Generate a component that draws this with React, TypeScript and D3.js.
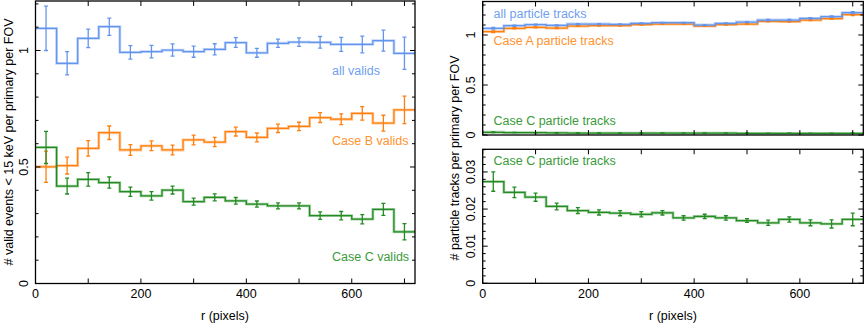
import React from "react";
import * as d3 from "d3";

// ---------- data ----------
const rBins = [20, 60, 100, 140, 180, 220, 260, 300, 340, 380, 420, 460, 500, 540, 580, 620, 660, 700];
const binWidth = 40;
const rMax = 720;

const allValids = [1.095, 0.945, 1.052, 1.102, 0.992, 0.995, 1.002, 0.995, 1.005, 1.034, 0.99, 1.031, 1.036, 1.035, 1.026, 1.026, 1.042, 0.988];
const allValidsErr = [0.095, 0.05, 0.04, 0.037, 0.029, 0.027, 0.026, 0.024, 0.024, 0.021, 0.019, 0.018, 0.018, 0.025, 0.03, 0.036, 0.045, 0.069];

const caseBValids = [0.501, 0.506, 0.58, 0.647, 0.573, 0.591, 0.573, 0.616, 0.607, 0.652, 0.627, 0.666, 0.674, 0.712, 0.705, 0.73, 0.688, 0.745];
const caseBValidsErr = [0.067, 0.036, 0.033, 0.029, 0.023, 0.021, 0.021, 0.021, 0.02, 0.019, 0.019, 0.018, 0.018, 0.021, 0.023, 0.029, 0.034, 0.059];

const caseCValids = [0.584, 0.418, 0.447, 0.433, 0.394, 0.376, 0.401, 0.351, 0.37, 0.355, 0.341, 0.333, 0.333, 0.291, 0.291, 0.276, 0.318, 0.222];
const caseCValidsErr = [0.069, 0.034, 0.029, 0.024, 0.02, 0.018, 0.017, 0.015, 0.015, 0.014, 0.013, 0.013, 0.013, 0.016, 0.018, 0.02, 0.026, 0.035];

const allTracks = [1.067, 1.093, 1.103, 1.097, 1.11, 1.11, 1.107, 1.117, 1.123, 1.123, 1.1, 1.117, 1.13, 1.15, 1.15, 1.167, 1.183, 1.223];
const allTracksErr = [0.008, 0.006, 0.005, 0.005, 0.004, 0.004, 0.004, 0.004, 0.004, 0.004, 0.004, 0.004, 0.004, 0.005, 0.005, 0.006, 0.007, 0.01];

const caseATracks = [1.033, 1.067, 1.077, 1.07, 1.09, 1.093, 1.093, 1.103, 1.11, 1.11, 1.09, 1.103, 1.11, 1.137, 1.133, 1.15, 1.163, 1.203];
const caseATracksErr = [0.008, 0.006, 0.005, 0.005, 0.004, 0.004, 0.004, 0.004, 0.004, 0.004, 0.004, 0.004, 0.004, 0.005, 0.005, 0.006, 0.007, 0.01];

const caseCTracks = [0.0274, 0.0245, 0.0232, 0.0207, 0.0196, 0.0191, 0.0189, 0.0186, 0.019, 0.0176, 0.018, 0.0176, 0.0169, 0.0163, 0.0172, 0.0163, 0.016, 0.0172];
const caseCTracksErr = [0.0026, 0.0014, 0.0011, 0.0009, 0.0008, 0.0007, 0.0007, 0.0007, 0.0006, 0.0006, 0.0006, 0.0006, 0.0005, 0.0007, 0.0007, 0.0008, 0.0011, 0.0017];

const xTickValues = [0, 100, 200, 300, 400, 500, 600, 700];
const xTickLabels = ["0", "200", "400", "600"];

const leftYMajor = [0, 0.5, 1];
const leftYLabels = ["0", "0.5", "1"];
const topRYMajor = [0, 0.5, 1];
const topRYLabels = ["0", "0.5", "1"];
const botRYMajor = [0, 0.01, 0.02, 0.03];
const botRYLabels = ["0", "0.01", "0.02", "0.03"];

// ---------- style ----------
const FONT = "'Liberation Sans', Arial, Helvetica, sans-serif";
const FS = 12.5;
const BLUE = "#6495ed";
const BLUE_T = "#6f9ff0";
const ORANGE = "#ff7f0e";
const ORANGE_T = "#ff9330";
const GREEN = "#228b22";
const GREEN_T = "#3a9a3a";

type Series = { values: number[]; err: number[]; color: string };

function Panel(props: {
  x0: number; x1: number; y0: number; y1: number; yMax: number;
  minorStep: number; major: number[]; majorLabels: string[];
  showXLabels: boolean; series: Series[]; labelX: number;
}) {
  const { x0, x1, y0, y1, yMax, minorStep, major, majorLabels, showXLabels, series } = props;
  const x = d3.scaleLinear().domain([0, rMax]).range([x0, x1]);
  const y = d3.scaleLinear().domain([0, yMax]).range([y1, y0]);
  const minor = d3.range(0, yMax + 1e-9, minorStep).filter((v) => !major.some((m) => Math.abs(m - v) < minorStep / 10));
  const line = d3.line<[number, number]>().x((d) => x(d[0])).y((d) => y(d[1])).curve(d3.curveStepAfter);

  return (
    <g>
      <defs>
        <clipPath id={`clip-${x0}-${y0}`}>
          <rect x={x0} y={y0} width={x1 - x0} height={y1 - y0} />
        </clipPath>
      </defs>
      <g clipPath={`url(#clip-${x0}-${y0})`}>
        {series.map((s, si) => {
          const pts: [number, number][] = rBins.map((c, i) => [c - binWidth / 2, s.values[i]] as [number, number]);
          pts.push([rMax, s.values[s.values.length - 1]]);
          const d = line(pts) || "";
          return (
            <g key={si}>
              <path d={d} fill="none" stroke={s.color} strokeOpacity={0.4} strokeWidth={2.8} />
              <path d={d} fill="none" stroke={s.color} strokeWidth={1.25} />
              {rBins.map((c, i) => {
                const cx = x(c);
                const ya = y(s.values[i] + s.err[i]);
                const yb = y(s.values[i] - s.err[i]);
                return (
                  <g key={i} stroke={s.color} strokeWidth={1.3}>
                    <line x1={cx} x2={cx} y1={ya} y2={yb} />
                    <line x1={cx - 2} x2={cx + 2} y1={ya} y2={ya} />
                    <line x1={cx - 2} x2={cx + 2} y1={yb} y2={yb} />
                  </g>
                );
              })}
            </g>
          );
        })}
      </g>
      {/* ticks */}
      <g stroke="#000" strokeWidth={1}>
        {xTickValues.map((t) => (
          <g key={t}>
            <line x1={x(t)} x2={x(t)} y1={y1} y2={y1 - 5} />
            <line x1={x(t)} x2={x(t)} y1={y0} y2={y0 + 5} />
          </g>
        ))}
        {minor.map((t, i) => (
          <g key={"m" + i}>
            <line x1={x0} x2={x0 + 3} y1={y(t)} y2={y(t)} />
            <line x1={x1} x2={x1 - 3} y1={y(t)} y2={y(t)} />
          </g>
        ))}
        {major.map((t, i) => (
          <g key={"M" + i}>
            <line x1={x0} x2={x0 + 5} y1={y(t)} y2={y(t)} />
            <line x1={x1} x2={x1 - 5} y1={y(t)} y2={y(t)} />
          </g>
        ))}
      </g>
      <rect x={x0} y={y0} width={x1 - x0} height={y1 - y0} fill="none" stroke="#000" strokeWidth={1.3} />
      {major.map((t, i) => (
        <text key={"l" + i} transform={`translate(${props.labelX},${y(t)}) rotate(-90)`} textAnchor="middle" fontFamily={FONT} fontSize={FS} fill="#000">
          {majorLabels[i]}
        </text>
      ))}
      {showXLabels &&
        xTickLabels.map((lab) => (
          <text key={lab} x={x(+lab)} y={y1 + 14.5} textAnchor="middle" fontFamily={FONT} fontSize={FS} fill="#000">
            {lab}
          </text>
        ))}
    </g>
  );
}

export default function App() {
  return (
    <svg width={865} height={324} style={{ display: "block", position: "absolute", left: 0, top: 0 }}>
      <rect width={865} height={324} fill="#fff" />
      {/* Left panel */}
      <Panel
        x0={35.5} x1={415} y0={1} y1={283.5} yMax={1.2124}
        minorStep={0.1} major={leftYMajor} majorLabels={leftYLabels}
        showXLabels={true} labelX={27.5}
        series={[
          { values: allValids, err: allValidsErr, color: BLUE },
          { values: caseBValids, err: caseBValidsErr, color: ORANGE },
          { values: caseCValids, err: caseCValidsErr, color: GREEN },
        ]}
      />
      <text x={332} y={75} fontFamily={FONT} fontSize={FS} fill={BLUE_T}>all valids</text>
      <text x={332} y={144.5} fontFamily={FONT} fontSize={FS} fill={ORANGE_T}>Case B valids</text>
      <text x={332} y={260.5} fontFamily={FONT} fontSize={FS} fill={GREEN_T}>Case C valids</text>
      <text transform="translate(12.5,142) rotate(-90)" textAnchor="middle" fontFamily={FONT} fontSize={FS} fill="#000">
        {"# valid events < 15 keV per primary per FOV"}
      </text>
      <text x={225} y={320} textAnchor="middle" fontFamily={FONT} fontSize={FS} fill="#000">r (pixels)</text>

      {/* Right top panel */}
      <Panel
        x0={482.7} x1={863.3} y0={1.5} y1={135} yMax={1.335}
        minorStep={0.1} major={topRYMajor} majorLabels={topRYLabels}
        showXLabels={false} labelX={474.5}
        series={[
          { values: caseCTracks, err: caseCTracksErr, color: GREEN },
          { values: caseATracks, err: caseATracksErr, color: ORANGE },
          { values: allTracks, err: allTracksErr, color: BLUE },
        ]}
      />
      <text x={493.5} y={18} fontFamily={FONT} fontSize={FS} fill={BLUE_T}>all particle tracks</text>
      <text x={493.5} y={45} fontFamily={FONT} fontSize={FS} fill={ORANGE_T}>Case A particle tracks</text>
      <text x={493.5} y={125} fontFamily={FONT} fontSize={FS} fill={GREEN_T}>Case C particle tracks</text>

      {/* Right bottom panel */}
      <Panel
        x0={482.7} x1={863.3} y0={149.3} y1={283.3} yMax={0.0361}
        minorStep={0.002} major={botRYMajor} majorLabels={botRYLabels}
        showXLabels={true} labelX={474.5}
        series={[{ values: caseCTracks, err: caseCTracksErr, color: GREEN }]}
      />
      <text x={493.5} y={165} fontFamily={FONT} fontSize={FS} fill={GREEN_T}>Case C particle tracks</text>
      <text transform="translate(458.5,158) rotate(-90)" textAnchor="middle" fontFamily={FONT} fontSize={FS} fill="#000">
        # particle tracks per primary per FOV
      </text>
      <text x={673} y={320} textAnchor="middle" fontFamily={FONT} fontSize={FS} fill="#000">r (pixels)</text>
    </svg>
  );
}
